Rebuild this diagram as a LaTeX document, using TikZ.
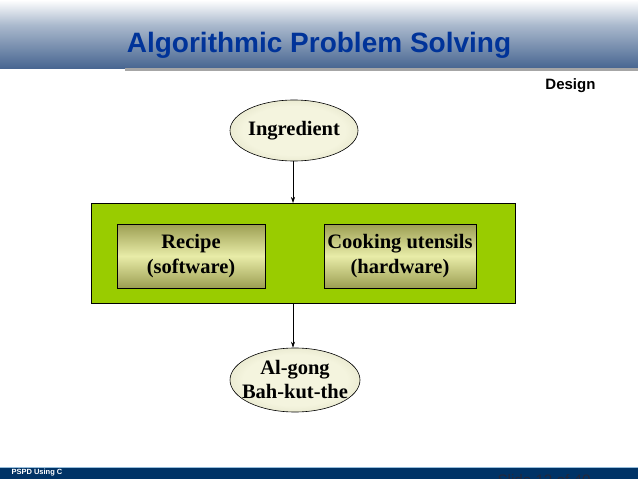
\documentclass[tikz,border=0pt]{standalone}
\usepackage{fontspec}
\setmainfont{Liberation Serif}
\setsansfont{Liberation Sans}
\usetikzlibrary{shapes.geometric,arrows.meta}
\definecolor{titleblue}{RGB}{0,51,153}
\definecolor{hdrbot}{RGB}{72,102,145}
\definecolor{hdrmid}{RGB}{170,185,205}
\definecolor{leaf}{RGB}{153,204,0}
\definecolor{olive}{RGB}{140,140,85}
\definecolor{cream}{RGB}{244,244,222}
\definecolor{boxlight}{RGB}{232,236,168}
\definecolor{boxdark}{RGB}{156,158,82}
\definecolor{footblue}{RGB}{0,51,102}
\definecolor{footline}{RGB}{150,190,220}
\definecolor{slidegrey}{RGB}{35,40,60}
\pgfdeclareradialshading{ovalshade}{\pgfpoint{0bp}{0bp}}{color(0bp)=(cream); color(20bp)=(cream); color(38bp)=(cream!70!olive); color(50bp)=(olive)}
\tikzset{
  oval/.style={ellipse, draw=black, line width=0.6pt, minimum width=128pt, minimum height=61pt, inner sep=0pt,
    shading=ovalshade},
  ovaltext/.style={inner sep=0pt, font=\fontsize{20.5}{24}\selectfont\bfseries, align=center},
  partbox/.style={rectangle, draw=black, line width=0.6pt, minimum height=64pt, inner sep=0pt,
    top color=boxdark, bottom color=boxdark, middle color=boxlight,
    font=\fontsize{20.5}{25}\selectfont\bfseries, align=center},
  greenbox/.style={rectangle, draw=black, line width=0.8pt, fill=leaf, minimum width=424pt, minimum height=100pt, inner sep=0pt},
  flow/.style={draw=black, line width=0.6pt, -{Stealth[length=6pt,width=4pt]}}
}
\begin{document}
\begin{tikzpicture}[x=1pt,y=-1pt]
\useasboundingbox (0,0) rectangle (638,479);
\clip (0,0) rectangle (638,479);
% header
\shade[top color=white, bottom color=hdrmid] (0,0) rectangle (638,25);
\shade[top color=hdrmid, bottom color=hdrbot] (0,25) rectangle (638,68);
\fill[gray!70] (125,68) rectangle (638,71);
\node (title) at (319,45) {\fontsize{28}{32}\selectfont\sffamily\bfseries\color{titleblue}Algorithmic Problem Solving};
\node[anchor=east] (design) at (599,86) {\fontsize{15}{18}\selectfont\sffamily\bfseries Design};
% diagram
\node[greenbox] (green) at (303,253) {};
\node[oval] (ing) at (294,130.5) {};
\node[ovaltext] (ingtext) at (ing.center) {Ingredient};
\node[partbox, minimum width=148pt] (recipe) at (191,256) {Recipe\\(software)};
\node[partbox, minimum width=152pt] (cook) at (400,256) {Cooking utensils\\(hardware)};
\node[oval, minimum height=64pt, minimum width=130pt] (alg) at (295,380) {};
\node[ovaltext] (algtext) at (alg.center) {Al-gong\\Bah-kut-the};
\coordinate (gtop) at (293,203);
\coordinate (gbot) at (293,303);
\draw[flow] (ing.south -| gtop) -- (gtop);
\draw[flow] (gbot) -- (alg.north -| gbot);
% footer
\fill[footblue] (0,467) rectangle (638,479);
\draw[footline, line width=0.8pt] (0,467) -- (638,467);
\node[anchor=west, text=white] (foot) at (8,473) {\fontsize{7.5}{9}\selectfont\sffamily\bfseries PSPD Using C};
\node[anchor=base west, text=slidegrey] (slide) at (494,485) {\fontsize{15.2}{18}\selectfont\sffamily Slide 12 of 40};
\end{tikzpicture}
\end{document}
